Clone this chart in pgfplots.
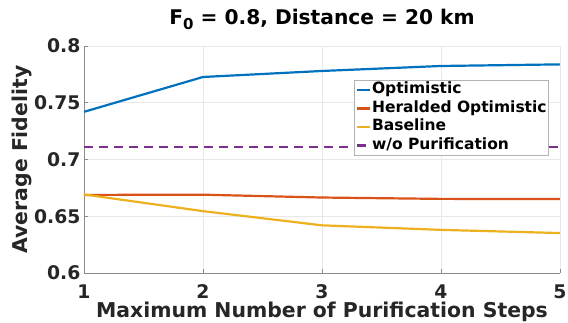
\documentclass[border=0pt]{standalone}
\usepackage{fontspec}
\setmainfont{DejaVu Sans}
\usepackage{pgfplots}
\pgfplotsset{compat=1.18}
\definecolor{mblue}{rgb}{0,0.447,0.741}
\definecolor{morange}{rgb}{0.85,0.325,0.098}
\definecolor{myellow}{rgb}{0.929,0.694,0.125}
\definecolor{mpurple}{rgb}{0.494,0.184,0.556}
\definecolor{txt}{rgb}{0.15,0.15,0.15}
\begin{document}
\begin{tikzpicture}
\begin{axis}[
  name=ax,
  scale only axis,
  width=476pt, height=227pt,
  xmin=1, xmax=5, ymin=0.6, ymax=0.8,
  xtick={1,2,3,4,5},
  ytick={0.6,0.65,0.7,0.75,0.8},
  yticklabels={0.6,0.65,0.7,0.75,0.8},
  axis x line*=bottom, axis y line*=left,
  axis line style={black!45, line width=0.8pt, -},
  tick style={black!45, line width=0.8pt},
  tick align=inside,
  major tick length=4pt,
  grid=major,
  major grid style={black!9, line width=0.8pt},
  /pgf/number format/assume math mode=true,
  ticklabel style={font=\fontsize{18.8}{20}\selectfont\bfseries, text=txt},
  xticklabel style={anchor=base, yshift=-25pt},
  yticklabel style={anchor=east},
  xlabel={Maximum Number of Purification Steps},
  ylabel={Average Fidelity},
  label style={font=\fontsize{20.4}{22}\selectfont\bfseries, text=txt},
  xlabel style={at={(axis description cs:0.5,-0.197)}, anchor=base},
  ylabel style={at={(axis description cs:-0.1197,0.5)}, anchor=base, rotate=0},
  title={F\raisebox{-5pt}{\fontsize{15}{15}\selectfont 0} = 0.8, Distance = 20 km},
  title style={font=\fontsize{20.2}{22}\selectfont\bfseries, at={(axis description cs:0.5,1.07)}, anchor=base},
  legend style={at={(rel axis cs:0.977,0.850)}, anchor=north east,
    draw=black!30, line width=0.8pt, fill=white,
    font=\fontsize{15.5}{17}\selectfont\bfseries, text=black,
    inner xsep=1pt, inner ysep=1pt, row sep=1.5pt,
    nodes={inner sep=1pt, text height=11.5pt, text depth=3.5pt}},
  legend cell align=left,
  legend image code/.code={\draw[#1] (0pt,0pt) -- (13pt,0pt);},
]
\addplot[mblue, line width=2.2pt] coordinates {(1,0.742) (2,0.7727) (3,0.778) (4,0.7824) (5,0.7838)};
\addlegendentry{Optimistic}
\addplot[morange, line width=2.2pt] coordinates {(1,0.6688) (2,0.6690) (3,0.6665) (4,0.6653) (5,0.6652)};
\addlegendentry{Heralded Optimistic}
\addplot[myellow, line width=2.2pt] coordinates {(1,0.6692) (2,0.6545) (3,0.6420) (4,0.6380) (5,0.6352)};
\addlegendentry{Baseline}
\addplot[mpurple, line width=2.2pt, dash pattern=on 9pt off 6pt] coordinates {(1,0.7108) (5,0.7108)};
\addlegendentry{w/o Purification}
\end{axis}
\pgfresetboundingbox
\path ([shift={(-84pt,-49pt)}]ax.south west) rectangle ([shift={(484pt,273pt)}]ax.south west);
\end{tikzpicture}
\end{document}
